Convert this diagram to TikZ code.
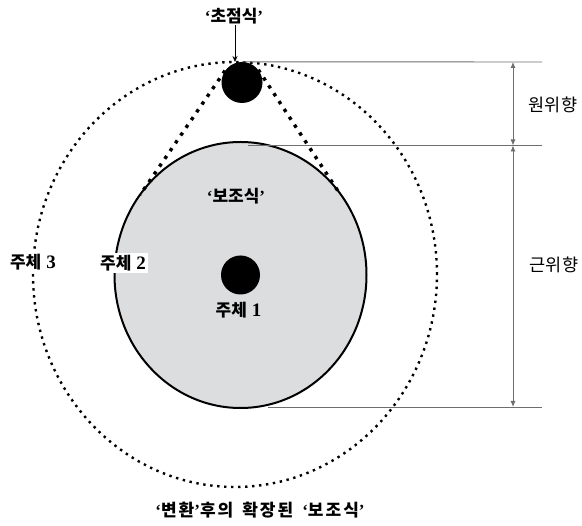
\documentclass[tikz,border=0pt]{standalone}
\usepackage{fontspec}
\setmainfont{Noto Sans CJK KR}
\newfontfamily\numf{Liberation Serif}
\usetikzlibrary{shapes.geometric,arrows.meta}
\definecolor{lgray}{HTML}{DCDDDF}
\definecolor{dimgray}{HTML}{6E6E6E}
\newcommand{\qopen}{{\numf ‘}}
\newcommand{\qclose}{{\numf ’}}
\newcommand{\dg}[1]{\hspace{5pt}{\numf\bfseries\fontsize{19}{19}\selectfont #1}}
\begin{document}
\begin{tikzpicture}[x=1pt,y=-1pt,
  font=\bfseries\fontsize{17}{19}\selectfont,
  lbl/.style={inner sep=1pt},
  whitelbl/.style={fill=white, inner sep=2pt},
  outerdots/.style={draw=black, line width=2.4pt, dash pattern=on 2.4pt off 4.6pt},
  tandots/.style={draw=black, line width=3.4pt, dash pattern=on 3.4pt off 6pt},
  dimline/.style={draw=dimgray, line width=0.9pt},
  dimarrow/.style={draw=dimgray, line width=0.9pt, {Latex[length=6pt,width=5pt]}-{Latex[length=6pt,width=5pt]}},
  blackdot/.style={circle, fill=black, inner sep=0pt}]
\useasboundingbox (0,0) rectangle (582,526);

% outer dotted ellipse
\node[ellipse, outerdots, minimum width=404, minimum height=425, inner sep=0pt] (outer) at (235,274.5) {};

% inner gray circle
\node[ellipse, fill=lgray, draw=black, line width=2pt, minimum width=252, minimum height=266, inner sep=0pt] (inner) at (240.5,275) {};

% focus dot
\node[blackdot, minimum size=41pt] (focus) at (242,82.5) {};
\coordinate (tl) at (140,195);
\coordinate (tr) at (338,191);
\draw[tandots] (focus.145) -- (tl);
\draw[tandots] (focus.38) -- (tr);

% centre dot
\node[blackdot, minimum size=39pt] (s1) at (240.5,275) {};

% labels
\node[lbl] (flbl) at (234,16) {\qopen 초점식\qclose};
\coordinate (ftip) at (235,62);
\draw[line width=0.7pt, -{Stealth[length=6pt,width=5pt]}] (flbl.south -| ftip) -- (ftip);
\node[lbl] (aux) at (236,196) {\qopen 보조식\qclose};
\node[lbl] (l1) at (238.5,310) {주체\dg{1}};
\node[whitelbl] (l2) at (123,263) {주체\dg{2}};
\node[whitelbl] (l3) at (33,262) {주체\dg{3}};
\node[lbl] (cap) at (260,510) {\addfontfeatures{LetterSpace=12}\qopen 변환\qclose 후의\hspace{3pt} 확장된\hspace{3pt} \qopen 보조식\qclose};

% dimension lines
\coordinate (r1) at (542,62);
\coordinate (r2) at (542,145.5);
\coordinate (b3) at (268,407);
\coordinate (r3) at (542,407);
\coordinate (m2) at (248,145.5);
\draw[dimline] (focus.north) -- (r1);
\draw[dimline] (m2) -- (r2);
\draw[dimline] (b3) -- (r3);
\coordinate (d1) at (513,62);
\coordinate (d2) at (513,145.5);
\coordinate (d3) at (513,407);
\draw[dimarrow] (d1) -- (d2);
\draw[dimarrow] (d2) -- (d3);
\node[lbl, font=\mdseries\fontsize{17.5}{19}\selectfont] (far) at (553,105) {원위향};
\node[lbl, font=\mdseries\fontsize{17.5}{19}\selectfont] (near) at (554,265) {근위향};
\end{tikzpicture}
\end{document}
